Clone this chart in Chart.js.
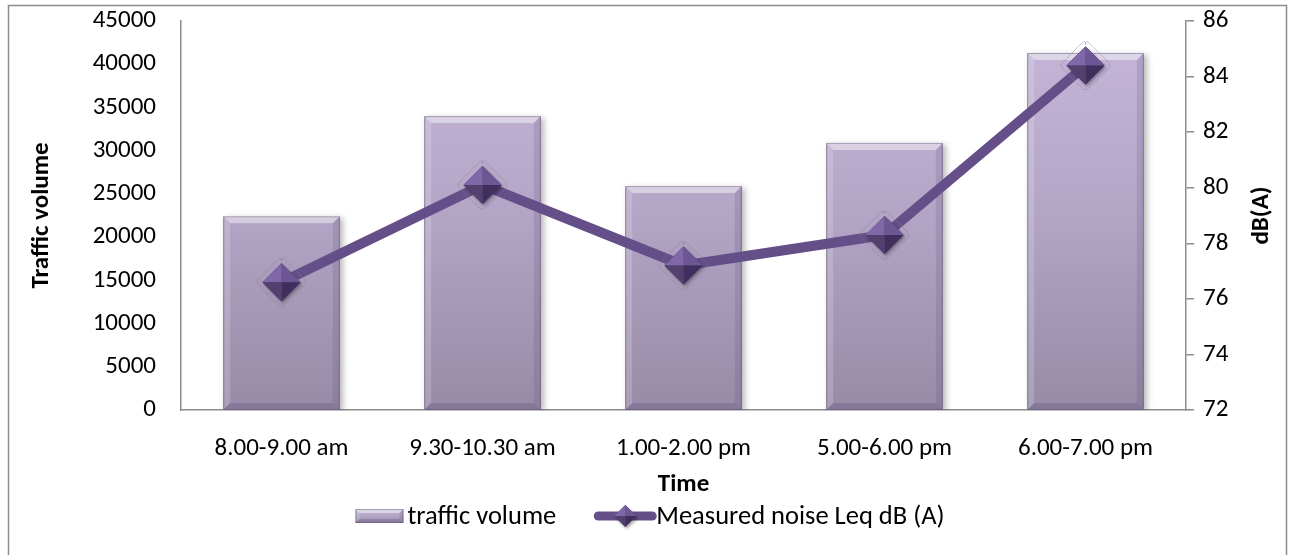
<!DOCTYPE html>
<html>
<head>
<meta charset="utf-8">
<title>Traffic volume and measured noise</title>
<script src="https://cdn.jsdelivr.net/npm/chart.js@4.4.1/dist/chart.umd.min.js"></script>
<style>
  html, body { margin: 0; padding: 0; background: #ffffff; }
  #wrap { width: 1289px; height: 555px; position: relative; overflow: hidden; }
</style>
</head>
<body>
<div id="wrap"><canvas id="chart" width="1289" height="555"></canvas></div>
<script>
// ---- data ----
const timeSlots = ['8.00-9.00 am', '9.30-10.30 am', '1.00-2.00 pm', '5.00-6.00 pm', '6.00-7.00 pm'];
const trafficVolume = [22400, 34000, 25900, 30900, 41300];
const noiseLeq = [76.6, 80.1, 77.2, 78.3, 84.4];
const volumeTicks = [0, 5000, 10000, 15000, 20000, 25000, 30000, 35000, 40000, 45000];
const dbTicks = [72, 74, 76, 78, 80, 82, 84, 86];

const seriesNames = ['traffic volume', 'Measured noise Leq dB (A)'];
const axisTitles = { x: 'Time', left: 'Traffic volume', right: 'dB(A)' };

// ---- styling ----
const FONT = 'Carlito, Calibri, Lato, sans-serif';
const TEXT_SIZE = 25;
const LEGEND_SIZE = 26.5;
const AXIS_GREY = '#8c8c8c';
const LINE_PURPLE = '#654f88';

function barGradient(ctx, top, bottom) {
  const g = ctx.createLinearGradient(0, top, 0, bottom);
  g.addColorStop(0, '#c6b7da');
  g.addColorStop(0.45, '#b5a7c8');
  g.addColorStop(1, '#978ba7');
  return g;
}

// bevel edges drawn over a bar rectangle
function drawBevel(ctx, left, top, right, bottom, b) {
  ctx.save();
  ctx.beginPath();
  ctx.moveTo(left, top); ctx.lineTo(right, top); ctx.lineTo(right - b, top + b); ctx.lineTo(left + b, top + b); ctx.closePath();
  ctx.fillStyle = 'rgba(255,255,255,0.45)'; ctx.fill();
  ctx.beginPath();
  ctx.moveTo(left, top); ctx.lineTo(left + b, top + b); ctx.lineTo(left + b, bottom - b); ctx.lineTo(left, bottom); ctx.closePath();
  ctx.fillStyle = 'rgba(255,255,255,0.18)'; ctx.fill();
  ctx.beginPath();
  ctx.moveTo(right, top); ctx.lineTo(right - b, top + b); ctx.lineTo(right - b, bottom - b); ctx.lineTo(right, bottom); ctx.closePath();
  ctx.fillStyle = 'rgba(70,50,100,0.14)'; ctx.fill();
  ctx.beginPath();
  ctx.moveTo(left, bottom); ctx.lineTo(left + b, bottom - b); ctx.lineTo(right - b, bottom - b); ctx.lineTo(right, bottom); ctx.closePath();
  ctx.fillStyle = 'rgba(70,50,100,0.22)'; ctx.fill();
  ctx.beginPath();
  ctx.moveTo(left + 0.5, top + 0.5); ctx.lineTo(right - 0.5, top + 0.5);
  ctx.strokeStyle = 'rgba(255,255,255,0.8)'; ctx.lineWidth = 1; ctx.stroke();
  ctx.strokeStyle = 'rgba(95,80,115,0.55)';
  ctx.strokeRect(left + 0.5, top + 0.5, right - left - 1, bottom - top - 1);
  ctx.restore();
}

// faceted diamond marker with a faint outline ring
function drawGem(ctx, x, y, r, ring) {
  ctx.save();
  if (ring) {
    const R = r + 7, k = 5;
    ctx.beginPath();
    ctx.moveTo(x, y - R + k);
    ctx.quadraticCurveTo(x, y - R, x + k * 0.7, y - R + k * 0.7);
    ctx.lineTo(x + R - k * 0.7, y - k * 0.7);
    ctx.quadraticCurveTo(x + R, y, x + R - k * 0.7, y + k * 0.7);
    ctx.lineTo(x + k * 0.7, y + R - k * 0.7);
    ctx.quadraticCurveTo(x, y + R, x - k * 0.7, y + R - k * 0.7);
    ctx.lineTo(x - R + k * 0.7, y + k * 0.7);
    ctx.quadraticCurveTo(x - R, y, x - R + k * 0.7, y - k * 0.7);
    ctx.lineTo(x - k * 0.7, y - R + k * 0.7);
    ctx.quadraticCurveTo(x, y - R, x, y - R + k);
    ctx.strokeStyle = 'rgba(130,120,140,0.4)';
    ctx.lineWidth = 1;
    ctx.stroke();
  }
  ctx.shadowColor = 'rgba(0,0,0,0.35)';
  ctx.shadowBlur = 3; ctx.shadowOffsetX = 1.5; ctx.shadowOffsetY = 2;
  ctx.beginPath();
  ctx.moveTo(x, y - r); ctx.lineTo(x + r, y); ctx.lineTo(x, y + r); ctx.lineTo(x - r, y); ctx.closePath();
  ctx.fillStyle = '#5d4882'; ctx.fill();
  ctx.shadowColor = 'transparent';
  const faces = [
    [[x, y - r], [x - r, y], '#8068a8'],
    [[x, y - r], [x + r, y], '#6d5694'],
    [[x + r, y], [x, y + r], '#3f2f5c'],
    [[x, y + r], [x - r, y], '#54406f']
  ];
  faces.forEach(([a, b, c]) => {
    ctx.beginPath();
    ctx.moveTo(x, y); ctx.lineTo(a[0], a[1]); ctx.lineTo(b[0], b[1]); ctx.closePath();
    ctx.fillStyle = c; ctx.fill();
  });
  ctx.restore();
}

const frameAndLegend = {
  id: 'frameAndLegend',
  beforeDraw(chart) {
    const ctx = chart.ctx;
    ctx.save();
    ctx.fillStyle = '#ffffff';
    ctx.fillRect(0, 0, chart.width, chart.height);
    ctx.strokeStyle = AXIS_GREY;
    ctx.lineWidth = 1.5;
    ctx.strokeRect(8.5, 5.5, 1278, 600);
    ctx.restore();
  },
  beforeDatasetDraw(chart, args) {
    if (args.index === 0) {
      const ctx = chart.ctx;
      ctx.save();
      ctx.shadowColor = 'rgba(0,0,0,0.28)';
      ctx.shadowBlur = 6; ctx.shadowOffsetX = 3; ctx.shadowOffsetY = 2;
    }
  },
  afterDatasetDraw(chart, args) {
    const ctx = chart.ctx;
    if (args.index === 0) {
      ctx.restore();
      args.meta.data.forEach(bar => {
        const { x, y, base, width } = bar.getProps(['x', 'y', 'base', 'width'], true);
        drawBevel(ctx, x - width / 2, y, x + width / 2, base, 7);
      });
    } else if (args.index === 1) {
      args.meta.data.forEach(pt => {
        const { x, y } = pt.getProps(['x', 'y'], true);
        drawGem(ctx, x, y, pt.options.radius, true);
      });
    }
  },
  afterDraw(chart) {
    const ctx = chart.ctx;
    const area = chart.chartArea;
    ctx.save();
    // right axis title, reading bottom to top
    ctx.font = 'bold ' + TEXT_SIZE + 'px ' + FONT;
    ctx.fillStyle = '#000';
    ctx.textAlign = 'center';
    ctx.textBaseline = 'middle';
    ctx.translate(1262, (area.top + area.bottom) / 2);
    ctx.rotate(-Math.PI / 2);
    ctx.fillText(axisTitles.right, 0, 0);
    ctx.restore();

    // legend
    ctx.save();
    ctx.font = LEGEND_SIZE + 'px ' + FONT;
    ctx.textBaseline = 'middle';
    ctx.textAlign = 'left';
    ctx.fillStyle = '#000';
    const ly = 516;
    const sw1 = 48, sw2 = 62, gap1 = 4, gap2 = 38;
    const w1 = ctx.measureText(seriesNames[0]).width;
    const w2 = ctx.measureText(seriesNames[1]).width;
    const total = sw1 + gap1 + w1 + gap2 + sw2 + w2;
    let lx = 650 - total / 2;
    ctx.fillStyle = barGradient(ctx, ly - 7, ly + 7);
    ctx.fillRect(lx, ly - 7, sw1, 14);
    drawBevel(ctx, lx, ly - 7, lx + sw1, ly + 7, 4);
    ctx.fillStyle = '#000';
    ctx.fillText(seriesNames[0], lx + sw1 + gap1, ly + 1);
    lx += sw1 + gap1 + w1 + gap2;
    ctx.beginPath();
    ctx.moveTo(lx + 4, ly); ctx.lineTo(lx + sw2 - 4, ly);
    ctx.strokeStyle = LINE_PURPLE; ctx.lineWidth = 9; ctx.lineCap = 'round';
    ctx.stroke();
    drawGem(ctx, lx + sw2 / 2, ly, 11, false);
    ctx.fillStyle = '#000';
    ctx.fillText(seriesNames[1], lx + sw2, ly + 1);
    ctx.restore();
  }
};

const plainNumber = (v) => String(v);

const ctx = document.getElementById('chart').getContext('2d');
new Chart(ctx, {
  data: {
    labels: timeSlots,
    datasets: [
      {
        type: 'bar',
        label: seriesNames[0],
        data: trafficVolume,
        yAxisID: 'yVolume',
        order: 2,
        backgroundColor: (c) => {
          const a = c.chart.chartArea;
          if (!a) return '#b6a8c9';
          return barGradient(c.chart.ctx, a.top, a.bottom);
        },
        borderWidth: 0,
        categoryPercentage: 1,
        barPercentage: 0.58
      },
      {
        type: 'line',
        label: seriesNames[1],
        data: noiseLeq,
        yAxisID: 'yNoise',
        order: 1,
        borderColor: LINE_PURPLE,
        borderWidth: 10,
        borderCapStyle: 'round',
        borderJoinStyle: 'round',
        tension: 0,
        pointStyle: 'rectRot',
        pointRadius: 19,
        pointBackgroundColor: '#5d4882',
        pointBorderWidth: 0
      }
    ]
  },
  options: {
    responsive: false,
    animation: false,
    events: [],
    layout: { padding: { left: 20, right: 0, top: 21, bottom: 49 } },
    plugins: {
      legend: { display: false },
      tooltip: { enabled: false }
    },
    scales: {
      x: {
        grid: { display: false, drawTicks: false },
        border: { display: true, color: AXIS_GREY, width: 1.5 },
        ticks: { color: '#000', font: { family: FONT, size: TEXT_SIZE }, padding: 24, maxRotation: 0, autoSkip: false },
        title: { display: true, text: axisTitles.x, color: '#000', font: { family: FONT, size: TEXT_SIZE, weight: 'bold' }, padding: { top: 0, bottom: 6 } },
        afterFit(s) { s.height = 96; s.paddingLeft = 0; s.paddingRight = 0; }
      },
      yVolume: {
        type: 'linear',
        position: 'left',
        min: volumeTicks[0],
        max: volumeTicks[volumeTicks.length - 1],
        afterBuildTicks(s) { s.ticks = volumeTicks.map(v => ({ value: v })); },
        grid: { display: false, drawTicks: false },
        border: { display: true, color: AXIS_GREY, width: 1.5 },
        ticks: { color: '#000', font: { family: FONT, size: TEXT_SIZE }, padding: 25, callback: plainNumber },
        title: { display: true, text: axisTitles.left, color: '#000', font: { family: FONT, size: TEXT_SIZE, weight: 'bold' }, padding: { top: 7, bottom: 0 } },
        afterFit(s) { s.width = 161; s.paddingTop = 0; s.paddingBottom = 0; }
      },
      yNoise: {
        type: 'linear',
        position: 'right',
        min: dbTicks[0],
        max: dbTicks[dbTicks.length - 1],
        afterBuildTicks(s) { s.ticks = dbTicks.map(v => ({ value: v })); },
        grid: { display: true, drawOnChartArea: false, drawTicks: true, tickLength: 8, color: AXIS_GREY, lineWidth: 1.5 },
        border: { display: true, color: AXIS_GREY, width: 1.5 },
        ticks: { color: '#000', font: { family: FONT, size: TEXT_SIZE }, padding: 9, callback: plainNumber },
        title: { display: false },
        afterFit(s) { s.width = 103; s.paddingTop = 0; s.paddingBottom = 0; }
      }
    }
  },
  plugins: [frameAndLegend]
});
</script>
</body>
</html>
